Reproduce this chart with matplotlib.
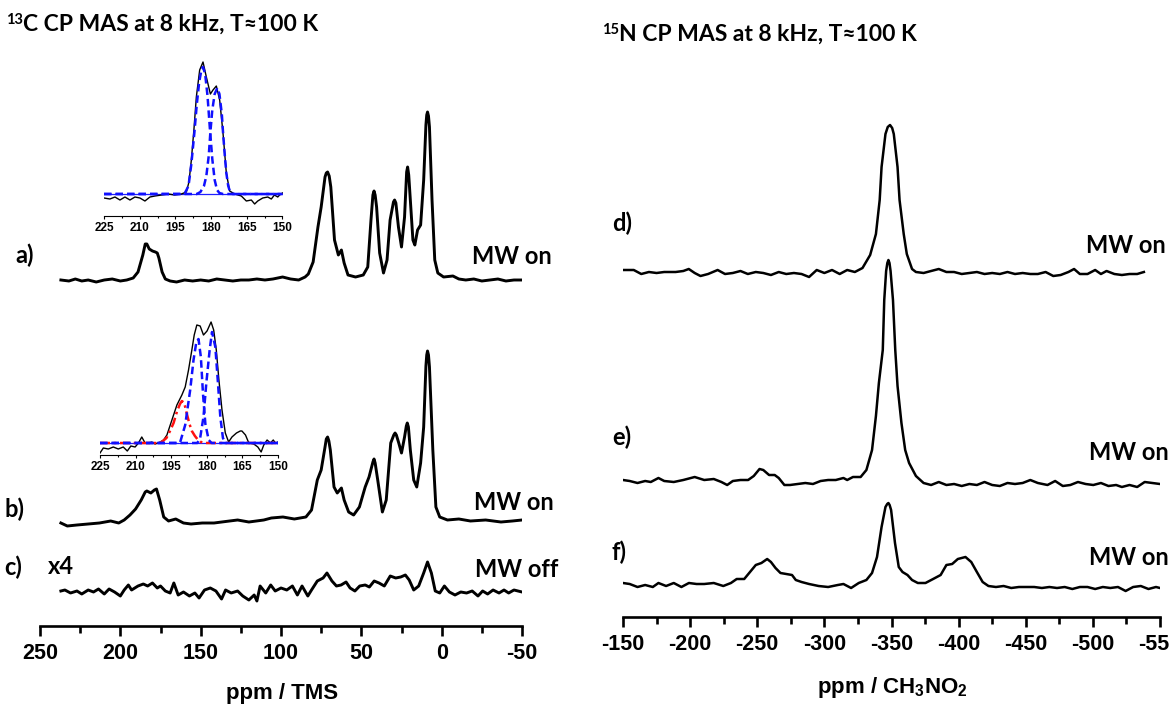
import matplotlib
matplotlib.use('Agg')
import matplotlib.pyplot as plt
import numpy as np
from matplotlib.ticker import MultipleLocator

# fonts
plt.rcParams['font.family'] = ['Liberation Sans', 'DejaVu Sans']
plt.rcParams['font.weight'] = 'bold'
plt.rcParams['axes.unicode_minus'] = False
plt.rcParams['mathtext.fontset'] = 'custom'
plt.rcParams['mathtext.rm'] = 'Liberation Sans:bold'
plt.rcParams['mathtext.it'] = 'Liberation Sans:bold'
plt.rcParams['mathtext.bf'] = 'Liberation Sans:bold'
LBL = ['Lato', 'DejaVu Sans']

# ---------------- data (ppm, intensity above baseline) ----------------
# 13C spectrum a) MW on
a_ppm = [237, 232, 228, 224, 220, 215, 210, 205, 200, 196, 192, 189, 186, 184.5, 183.5, 182, 180, 178.2, 177, 176, 174, 172,
         169, 165, 160, 155, 150, 145, 140, 135, 130, 125, 120, 115, 110, 105, 99, 94, 89, 85, 83, 80,
         77, 75, 72.6, 71.8, 71, 70, 69, 66.7, 64.3, 62.4, 60.7, 58.3, 53.6, 48.8, 46, 44, 42.8, 42.1, 41.4, 40.5, 38.6, 36.2, 34, 32.1,
         30, 29.3, 28.5, 26.9, 25, 23.1, 21.8, 21.2, 20.5, 19.5, 17.9, 16.7, 15, 13.1, 11.2, 9.8, 9.3, 8.8, 8.2, 7.6, 6, 4.3, 2.4, -1.2, -7, -10.7,
         -15, -20, -25, -30, -35, -40, -45, -50]
a_int = [0, -1, 1, -1, 0, -2, 0, 1, -1, 0, 2, 8, 25, 36, 36, 31, 29, 28, 27, 22, 8, 1,
         -1, -2, 0, -1, 0, -1, 1, 0, -1, 0, 0, 1, 0, 1, 3, 1, 0, 3, 6, 18,
         53, 73, 103, 107, 108, 104, 93, 40, 25, 30, 17, 5, 3, 5, 13, 60, 85, 89, 85, 73, 27, 7, 20, 60,
         78, 80, 77, 53, 33, 63, 108, 113, 105, 80, 40, 35, 50, 55, 100, 155, 165, 168, 164, 153, 80, 20, 7, 3, 4, 1,
         0, 1, -1, 0, 1, -1, 0, 0]

# 13C spectrum b) MW on
b_ppm = [237, 233, 227, 220, 213, 206, 201, 197.6, 194, 190.5, 187, 184.5, 183.5, 181, 178.8, 177.5, 175.5, 173, 170, 165.5, 160.7, 156,
         149, 141.7, 132, 127, 120, 110.7, 106, 98.8, 91.7, 84.5, 81, 77.4, 75, 72.6, 71.8, 71, 70.2, 69.3, 67, 65, 62.4, 60.7,
         57.9, 54.8, 51.2, 47.6, 45.2, 42.8, 42.1, 41.4, 39.8, 36.9, 34.5, 31.7, 29.8, 29, 28.2, 26.7, 25, 23.1, 22, 21.4, 20.7, 19.5, 17.4, 15.5, 13.1, 11.2,
         9.8, 9.3, 8.8, 8.2, 7.6, 5.5, 3.6, 1.2, -3.6, -10.7, -17.9, -27.4, -36.9, -44, -50]
b_int = [-2, -5, -4, -3, -2, 0, -2, 1, 6, 12, 21, 29, 30, 28, 31, 32, 21, 4, 0, 2, -2, -3,
         -2, -2, 0, 1, -1, 1, 3, 4, 2, 4, 11, 41, 51, 74, 82, 84, 80, 71, 34, 28, 33, 21,
         9, 6, 14, 34, 44, 59, 62, 58, 41, 9, 21, 78, 86, 88, 86, 78, 68, 84, 95, 98, 94, 71, 41, 34, 58, 94,
         155, 166, 170, 166, 154, 71, 14, 4, 1, 2, 0, 1, -1, 0, 1]

# 13C spectrum c) MW off, x4
c_ppm = [237, 234.5, 231, 227, 224, 220, 216.7, 213.6, 210, 207, 203.6, 200, 197.6, 195, 193, 189, 185.7, 183, 180, 177,
         175, 172, 169, 166.7, 164, 160.7, 157, 153.6, 151, 147.6, 144, 140.5, 137, 134.5, 131, 127, 123.8, 120, 116.7, 115,
         113, 109.5, 106.4, 103.6, 100, 96.4, 92.9, 89.8, 86.9, 83.3, 81, 77.4, 73.8, 71.4, 68.3, 65.5, 62.6, 59.5, 57, 54,
         51, 47.6, 45, 42, 39, 35.7, 32, 28.6, 25.5, 22.6, 20.2, 17.4, 14.3, 11.2, 8.8, 6.4, 4, 1.2, -1.7, -4.8,
         -8.3, -11.9, -15.5, -19, -22.6, -25.5, -28.6, -32, -35.7, -38.8, -41.7, -45, -50]
c_int = [2, 3, 0, 2, -1, 3, 1, 4, -1, 4, 1, -3, 3, 8, 3, 7, 9, 7, 10, 5,
         7, 2, 0, 10, -2, 1, -3, 0, -5, 3, 5, 2, -6, 3, 0, 2, -3, -7, -2, -8,
         7, 0, 8, 2, 5, 3, 7, -2, 7, -3, 3, 12, 15, 20, 12, 7, 8, 11, 5, 2,
         7, 8, 6, 12, 10, 7, 17, 15, 16, 18, 13, 3, 7, 20, 31, 20, 2, 0, 7, 1,
         -2, 1, 0, 2, -3, 2, -1, 3, 0, 3, 0, 3, 1]

# inset of a): carbonyl region with two-component fit
ia_ppm = [225, 222.5, 220.4, 218.3, 216.2, 214.1, 212, 209.9, 207.8, 205.7, 203.6, 200.8, 198, 195.3, 192.5, 190.4, 189.3, 188.3, 187.2, 186.2,
          184.8, 183.4, 182, 180.3, 179.2, 177.8, 176.4, 175, 173.6, 172.2, 170.1, 167.3, 165.2, 163.1, 161.7, 160.4, 158.3, 156.2, 154.7, 153.4,
          152, 150.8, 150]
ia_int = [-4, -5, -3, -6, -3, -6, -3, -4, -7, -3, -2, -1, 0, -1, 0, 2, 12, 34, 65, 97,
          124, 132, 117, 100, 104, 108, 94, 61, 21, 3, 0, -2, -7, -6, -10, -7, -4, -3, -5, -1,
          -3, 0, 1]
fa1_ppm = [225, 193, 191, 189.5, 188.3, 187, 186, 185, 184, 183.4, 182.5, 181.5, 180.5, 179.5, 178.5, 177.5, 176.5, 175, 150]
fa1_int = [0, 0, 1, 8, 30, 62, 90, 112, 125, 127, 120, 98, 65, 35, 14, 4, 1, 0, 0]
fa2_ppm = [225, 186, 184.5, 183, 182, 181, 180.3, 179.5, 178.5, 177.4, 176.5, 175.5, 175, 174.3, 173.6, 172.8, 172, 171, 150]
fa2_int = [0, 0, 2, 8, 18, 38, 62, 84, 100, 106, 100, 80, 62, 40, 21, 8, 2, 0, 0]

# inset of b): carbonyl region with three-component fit
ib_ppm = [225, 223.6, 221.5, 219.4, 217.3, 215.2, 213.5, 212, 210.2, 208.8, 207.4, 206, 204.6, 203.2, 201.8, 199.6, 198.2, 196.8, 194.7, 192.6,
          190.5, 189.1, 187.7, 186.3, 185.3, 184.2, 182.8, 181.4, 179.9, 178.2, 177.1, 176, 174.9, 173.6, 172.2, 170.8, 169.4, 167.5, 165.9, 165.2,
          163.7, 162.3, 160.2, 158.5, 157.1, 156, 154.6, 153.2, 152, 151.1, 150]
ib_int = [-10, -5, -6, -4, -6, -4, -8, -3, -4, 0, 6, 0, 0, 1, -1, 1, 3, 8, 23, 38,
          48, 56, 73, 93, 108, 118, 117, 108, 112, 121, 113, 93, 63, 33, 10, 1, 6, 10, 12, 12,
          8, 0, -1, -4, -9, -2, 3, 0, 3, 0, 1]
fb1_ppm = [225, 192, 191.2, 189.1, 187, 185.6, 184.4, 183.5, 182.5, 181.6, 180.6, 179.2, 178, 150]
fb1_int = [0, 0, 1, 18, 53, 83, 101, 104, 86, 49, 19, 3, 0, 0]
fb2_ppm = [225, 184, 182.8, 181.4, 180.2, 178.8, 177.8, 176.4, 175.3, 174.3, 173.2, 172.2, 150]
fb2_int = [0, 0, 5, 26, 60, 93, 111, 96, 60, 26, 5, 0, 0]
fb3_ppm = [225, 201, 199, 197, 195.5, 194, 192.5, 191.3, 190.5, 189.5, 188.5, 187.3, 186.3, 185, 184, 182.5, 181, 150]
fb3_int = [0, 0, 1, 5, 12, 20, 32, 39, 42, 40, 30, 19, 12, 7, 4, 1, 0, 0]

# 15N spectrum d) MW on
d_ppm = [-150, -153.7, -158, -163.6, -169.3, -175, -180.7, -189.2, -194.9, -199, -203.4, -207.7, -213.4, -220.5, -226, -231.8, -237.5, -243, -248.9, -254.5,
         -260.2, -266, -271.6, -277.3, -283, -288.6, -294.3, -300, -305.7, -311.4, -317, -322.7, -328.4, -334.1, -338.4, -341.2, -342.6, -345.5, -347.2, -348.9, -350.5, -351.7,
         -354.5, -356, -359.1, -361.4, -365.3, -368.2, -373.9, -379.5, -385.2, -390.9, -396.6, -402.3, -408, -413.6, -419.3, -425, -430.7, -436.4, -442, -447.7,
         -453.4, -459, -464.8, -470.5, -476, -481.8, -486, -490.3, -496, -501.7, -506, -510.2, -516, -521.6, -527.3, -533, -538]
d_int = [2, 2, 2, -2, 0, -1, 0, 0, 1, 3, -1, -4, -2, 2, -2, -1, 1, -2, 0, -1,
         -3, 0, -2, -1, -2, -5, 2, -1, 2, -2, 2, 0, 4, 17, 38, 72, 105, 138, 145, 147, 144, 138,
         105, 72, 38, 18, 3, 0, -1, 1, 3, 0, 0, -2, -1, 0, -2, -1, -2, 0, -2, -1,
         -2, -2, 0, -4, -3, 0, 3, -2, -2, 2, -2, 1, -2, -3, -2, -2, 0]

# 15N spectrum e) MW on
e_ppm = [-150, -155, -160.8, -166.5, -170.7, -176.4, -180.7, -187.8, -194.9, -203.4, -210.5, -217.6, -223.3, -227.6, -231.8, -237.5, -243.2, -247.4, -251.7, -254.5,
         -258.8, -263, -266, -270.2, -274.4, -280.1, -285.8, -291.5, -297.2, -302.8, -308.5, -314.2, -317, -321.3, -327, -331.3, -335.5, -338.4, -340.6, -343.5,
         -344.6, -346, -346.9, -347.7, -348.5, -349.3, -351.1, -352.8, -354.5, -357.4, -360.2, -363.1, -368.2, -373.9, -379.5, -385.2, -390.9, -396.6, -402.3, -408, -413.6, -419.3,
         -425, -430.7, -436.4, -442, -447.7, -453.4, -459, -466.2, -471.9, -477.6, -483.2, -488.9, -494.6, -500.3, -506, -511.6, -517.3, -521.6, -527.3, -533,
         -538.6, -544.3, -550]
e_int = [3, 2, 0, 2, 1, 5, 2, 1, 3, 6, 3, 4, 1, -2, 2, 3, 3, 7, 14, 13,
         8, 8, 5, -2, -2, -1, 0, -1, 2, 3, 3, 5, 3, 6, 6, 13, 33, 67, 100, 133,
         183, 212, 220, 223, 220, 212, 183, 133, 97, 60, 33, 20, 7, 0, -2, 1, -2, -1, -3, -1, -2, 1,
         -2, -3, 0, -1, 0, 3, 0, -2, 2, -3, -2, 1, -1, -2, 0, -3, -2, -4, -2, -4,
         1, 0, -1]

# 15N spectrum f) MW on
f_ppm = [-150, -155, -160.8, -166.5, -172.2, -176.4, -182.1, -187.8, -193.5, -199.1, -204.8, -210.5, -217.6, -224.7, -230.4, -234.7, -240.3, -244.6, -248.9, -253.1,
         -257.4, -260.2, -263.6, -267.3, -271.6, -275.9, -278.7, -283, -288.6, -295.7, -302.8, -310, -314.2, -319.9, -325.6, -331.3, -335.5, -339.2, -342.6, -345.5,
         -346.8, -347.7, -348.6, -349.7, -352.6, -355.4, -358.2, -361.9, -365.3, -369.6, -375.3, -381, -386.6, -390.9, -395.2, -399.4, -405.1, -409.4, -413.6, -417.9, -422.2, -427.8,
         -433.5, -439.2, -444.9, -450.6, -456.3, -462, -467.6, -473.3, -479, -484.7, -490.3, -496, -501.7, -507.4, -513, -518.7, -524.4, -530, -535.7, -541.4,
         -547, -550]
f_int = [2, 1, -2, 0, -2, 2, -1, 2, -2, 2, 1, 1, 2, -1, 2, 6, 6, 13, 20, 22,
         26, 23, 17, 12, 11, 10, 5, 3, 1, -1, -2, 0, 1, -3, 2, 5, 12, 28, 58, 78,
         81, 82, 80, 75, 42, 18, 13, 10, 5, 2, 2, 6, 10, 20, 21, 26, 28, 23, 13, 3, -1, -2,
         -1, -3, -2, -2, -2, -3, -2, -3, -2, -4, -2, -2, -4, -2, -3, -2, -6, -2, -1, -4,
         -2, -3]

# ---------------- layout (pixel geometry of the original figure) ----------------
W, H = 1169, 704
fig = plt.figure(figsize=(W / 100, H / 100), dpi=100)


def box(x0, y0, x1, y1):
    return [x0 / W, 1 - y1 / H, (x1 - x0) / W, (y1 - y0) / H]


def style(ax, major, minor, size, lw, tlen, pad):
    for s in ['left', 'right', 'top']:
        ax.spines[s].set_visible(False)
    ax.spines['bottom'].set_linewidth(lw)
    ax.set_yticks([])
    ax.xaxis.set_major_locator(MultipleLocator(major))
    ax.xaxis.set_minor_locator(MultipleLocator(minor))
    ax.tick_params(axis='x', which='major', direction='out', length=tlen, width=lw,
                   labelsize=size, pad=pad)
    ax.tick_params(axis='x', which='minor', direction='out', length=tlen * 0.65, width=lw)
    ax.patch.set_alpha(0)


def txt(x, y, s, size=17, family=LBL, **kw):
    fig.text(x / W, 1 - y / H, s, fontsize=size, family=family, fontweight='bold',
             va='baseline', **kw)


# left panel: 13C
axL = fig.add_axes(box(40, 0, 522, 626))
style(axL, 50, 25, 15.5, 1.9, 7.5, 5)
axL.set_xlim(250, -50)
axL.set_ylim(0, 626)
for p, v, off in [(a_ppm, a_int, 346), (b_ppm, b_int, 105), (c_ppm, c_int, 33)]:
    axL.plot(p, off + np.array(v), color='k', lw=2.1, solid_joinstyle='round')

# right panel: 15N
axR = fig.add_axes(box(623, 0, 1160, 617))
style(axR, 50, 25, 15.5, 1.9, 7.5, 5)
axR.set_xlim(-150, -550)
axR.set_ylim(0, 617)
for p, v, off in [(d_ppm, d_int, 345), (e_ppm, e_int, 134), (f_ppm, f_int, 32)]:
    axR.plot(p, off + np.array(v), color='k', lw=1.8, solid_joinstyle='round')

# inset a)
axA = fig.add_axes(box(104, 40, 282.5, 216))
style(axA, 15, 7.5, 8.5, 0.8, 2.5, 1.5)
axA.set_xlim(225, 150)
axA.set_ylim(0, 176)
axA.axhline(22, color='#2020ff', lw=0.9)
axA.plot(ia_ppm, 22 + np.array(ia_int), color='k', lw=1.0)
for p, v in [(fa1_ppm, fa1_int), (fa2_ppm, fa2_int)]:
    axA.plot(p, 22 + np.array(v), color='#1010ff', lw=1.8, dashes=(3, 1.6))

# inset b)
axB = fig.add_axes(box(100, 300, 278, 455))
style(axB, 15, 7.5, 8.5, 0.8, 2.5, 1.5)
axB.set_xlim(225, 150)
axB.set_ylim(0, 155)
axB.axhline(12, color='#2020ff', lw=0.9)
axB.plot(ib_ppm, 12 + np.array(ib_int), color='k', lw=1.0)
axB.plot(fb3_ppm, 12 + np.array(fb3_int), color='#ff1010', lw=1.8, dashes=(4, 1.5, 1, 1.5))
for p, v in [(fb1_ppm, fb1_int), (fb2_ppm, fb2_int)]:
    axB.plot(p, 12 + np.array(v), color='#1010ff', lw=1.8, dashes=(3, 1.6))

for ax in [axA, axB]:
    for lab in ax.get_xticklabels():
        lab.set_fontweight('bold')

# titles
txt(23, 31, 'C CP MAS at 8 kHz, T\u2248100 K', size=16.5)
txt(23, 24, '13', size=10.5, ha='right')
txt(619, 41, 'N CP MAS at 8 kHz, T\u2248100 K', size=16.5)
txt(619, 34, '15', size=10.5, ha='right')

# spectrum labels
txt(15, 263, 'a)')
txt(472, 264, 'MW on')
txt(4, 517, 'b)')
txt(474, 510, 'MW on')
txt(4, 575, 'c)')
txt(48, 574, 'x4')
txt(475, 577, 'MW off')
txt(612, 231, 'd)')
txt(1086, 253, 'MW on')
txt(612, 445, 'e)')
txt(1089, 460, 'MW on')
txt(612, 560, 'f)')
txt(1089, 565, 'MW on')

# axis titles
txt(282, 699, 'ppm / TMS', size=16, family=['Liberation Sans'], ha='center')
txt(892, 693, 'ppm / CH$_3$NO$_2$', size=16, family=['Liberation Sans'], ha='center')

fig.savefig('out.png', dpi=100)
